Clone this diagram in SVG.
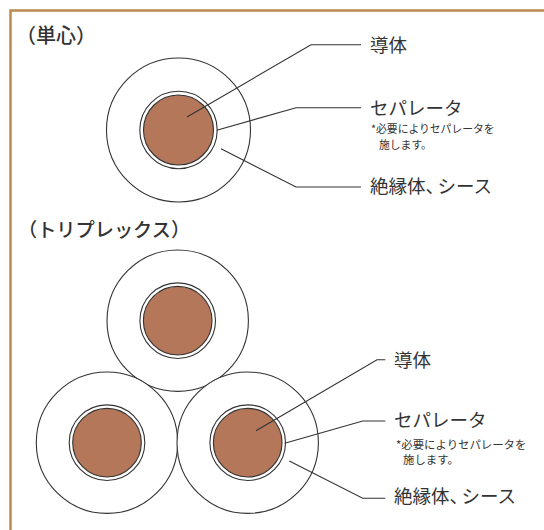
<svg xmlns="http://www.w3.org/2000/svg" width="544" height="530" viewBox="0 0 544 530">
<style>
text{font-family:"Noto Sans CJK JP","Noto Sans",sans-serif;fill:#333}
.h{font-size:20px;font-weight:500}.h2{font-size:19.2px;font-weight:500}.l{font-size:18.5px}.n{font-size:10.8px}.m{font-size:11.4px}
.o{fill:#fff;stroke:#333;stroke-width:1.1}
.s{fill:#fff;stroke:#333;stroke-width:1.1}
.c{fill:#b5775a;stroke:#333;stroke-width:1.1}
.w{fill:none;stroke:#333;stroke-width:1.1}
.t{letter-spacing:-6.5px}
</style>
<rect x="10.5" y="10.500" width="544" height="530" fill="#fff" stroke="#b98b4c" stroke-width="2.5"/>
<text class="h" x="16" y="43">（単心）</text>
<text class="h2" x="18" y="237">（トリプレックス）</text>
<g id="single"><circle class="o" cx="178.5" cy="130" r="72"/><circle class="s" cx="178.5" cy="130" r="38.7"/><circle class="c" cx="178.5" cy="130" r="35"/></g>
<g id="triple-top"><circle class="o" cx="177.7" cy="320.7" r="70.7"/><circle class="s" cx="177.7" cy="320.7" r="37.8"/><circle class="c" cx="177.7" cy="320.7" r="34.3"/></g>
<g id="triple-left"><circle class="o" cx="107" cy="442.7" r="70.7"/><circle class="s" cx="107" cy="442.7" r="37.8"/><circle class="c" cx="107" cy="442.7" r="34.3"/></g>
<g id="triple-right"><circle class="o" cx="247.7" cy="442.7" r="70.7"/><circle class="s" cx="247.7" cy="442.7" r="37.8"/><circle class="c" cx="247.7" cy="442.7" r="34.3"/></g>
<g id="connectors">
<polyline class="w" points="187,117 311,44.700 361,44.700"/>
<polyline class="w" points="216.700,130.300 296,107.700 361,107.700"/>
<polyline class="w" points="221,148.700 296,187 361,187"/>
<polyline class="w" points="256,430.700 377,359.700 385.300,359.700"/>
<polyline class="w" points="284.700,443.300 362.700,421 385.300,421"/>
<polyline class="w" points="289.300,461 362.700,498.300 385.300,498.300"/>
</g>
<g id="labels-single">
<text class="l" x="370" y="52">導体</text>
<text class="l" x="370" y="115">セパレータ</text>
<text class="n" x="371" y="133">*必要によりセパレータを</text>
<text class="n" x="379" y="148.500">施します。</text>
<text class="l" x="370" y="193">絶縁体<tspan class="t">、</tspan>シース</text>
</g>
<g id="labels-triple">
<text class="l" x="394" y="367">導体</text>
<text class="l" x="394" y="427">セパレータ</text>
<text class="m" x="396" y="448.500">*必要によりセパレータを</text>
<text class="m" x="403" y="464">施します。</text>
<text class="l" x="394" y="503">絶縁体<tspan class="t">、</tspan>シース</text>
</g>
</svg>
